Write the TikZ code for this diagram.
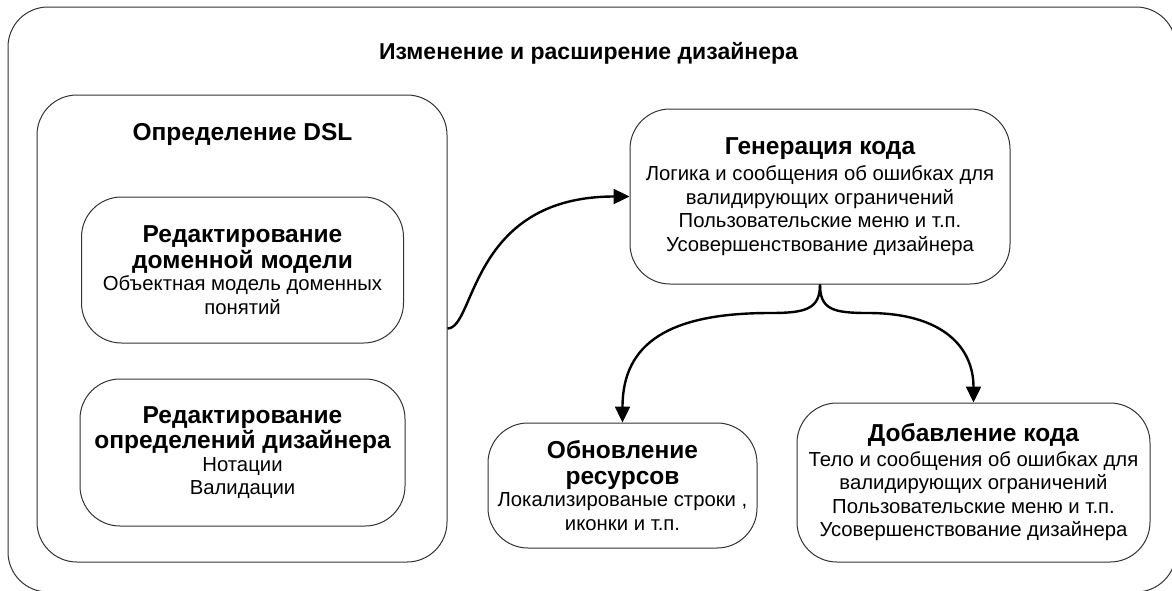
\documentclass[tikz,border=0pt]{standalone}
\usepackage{fontspec}
\setmainfont{Liberation Sans}
\usetikzlibrary{arrows.meta}

% heading and body fonts
\newcommand{\tl}{\fontsize{23}{26}\selectfont\bfseries}
\newcommand{\hd}{\fontsize{24.5}{27}\selectfont\bfseries}
\newcommand{\bd}{\fontsize{20.3}{23.5}\selectfont}

\tikzset{
  panel/.style={draw=black!80, line width=1pt, rounded corners=40pt,
    align=center, inner sep=0pt, font=\bd},
  flow/.style={line width=2.4pt, -{Triangle[length=16pt,width=15pt]}},
  caption/.style={anchor=base, inner sep=0pt}
}

\begin{document}
\begin{tikzpicture}[x=1pt,y=-1pt]
\useasboundingbox (0,0) rectangle (1172,590);

% outer container, partly running past the page edge
\begin{scope}
  \clip (0,0) rectangle (1172,590);
  \node[panel, minimum width=1168pt, minimum height=585pt] (outer) at (592,299.5) {};
\end{scope}
\node[caption, font=\tl] (outertitle) at (588.5,59) {Изменение и расширение дизайнера};

% DSL definition group
\node[panel, minimum width=410pt, minimum height=467pt] (dsl) at (242,328.5) {};
\node[caption, font=\hd] (dsltitle) at (242.5,140) {Определение DSL};

\node[panel, minimum width=322pt, minimum height=146pt] (dom) at (242.5,270)
  {{\hd Редактирование}\\[2pt]{\hd доменной модели}\\[-1pt]
   Объектная модель доменных\\понятий};

\node[panel, minimum width=325pt, minimum height=147pt] (des) at (242.5,452.5)
  {{\hd Редактирование}\\[2pt]{\hd определений дизайнера}\\[-1pt]
   Нотации\\Валидации};

% code generation and follow-up steps
\node[panel, minimum width=380pt, minimum height=175pt] (gen) at (820,196.5)
  {{\hd Генерация кода}\\[3pt]
   Логика и сообщения об ошибках для\\валидирующих ограничений\\
   Пользовательские меню и т.п.\\Усовершенствование дизайнера};

\node[panel, minimum width=269pt, minimum height=125pt] (upd) at (622.5,485.5)
  {{\hd Обновление}\\[2pt]{\hd ресурсов}\\[-1pt]
   Локализированые строки ,\\иконки и т.п.};

\node[panel, minimum width=353pt, minimum height=159pt] (add) at (973.5,482.5)
  {{\hd Добавление кода}\\[1pt]
   Тело и сообщения об ошибках для\\валидирующих ограничений\\
   Пользовательские меню и т.п.\\Усовершенствование дизайнера};

% connectors
\draw[flow] (dsl.east) .. controls +(28,0) and +(-160,0) .. (gen.west);

\coordinate (splitL) at (770,313);
\coordinate (splitR) at (868,313);
\draw[flow] (gen.south) .. controls +(0,25) and +(35,0) .. (splitL)
  .. controls +(-100,0) and +(0,-80) .. (upd.north);
\draw[flow] (gen.south) .. controls +(0,25) and +(-35,0) .. (splitR)
  .. controls +(75,0) and +(0,-55) .. (add.north);
\end{tikzpicture}
\end{document}
